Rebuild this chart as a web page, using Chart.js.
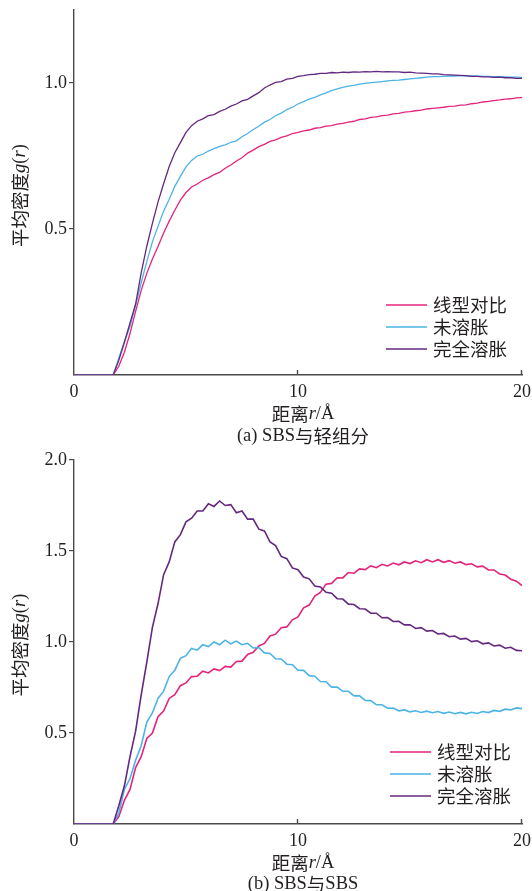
<!DOCTYPE html>
<html>
<head>
<meta charset="utf-8">
<script src="https://cdn.jsdelivr.net/npm/chart.js@4.4.0/dist/chart.umd.min.js"></script>
<style>
  html, body { margin: 0; padding: 0; background: #fff; }
  #wrapA { position: absolute; left: 0; top: 0; width: 532px; height: 445px; }
  #wrapB { position: absolute; left: 0; top: 445px; width: 532px; height: 446px; }
</style>
</head>
<body>
<div id="wrapA"><canvas id="chartA"></canvas></div>
<div id="wrapB"><canvas id="chartB"></canvas></div>
<script>
// distance r (Å), shared by every curve
const r = [0, 1.75,
  2, 2.25, 2.5, 2.75, 3, 3.25, 3.5, 3.75, 4, 4.25,
  4.5, 4.75, 5, 5.25, 5.5, 5.75, 6, 6.25, 6.5, 6.75,
  7, 7.25, 7.5, 7.75, 8, 8.25, 8.5, 8.75, 9, 9.25,
  9.5, 9.75, 10, 10.25, 10.5, 10.75, 11, 11.25, 11.5, 11.75,
  12, 12.25, 12.5, 12.75, 13, 13.25, 13.5, 13.75, 14, 14.25,
  14.5, 14.75, 15, 15.25, 15.5, 15.75, 16, 16.25, 16.5, 16.75,
  17, 17.25, 17.5, 17.75, 18, 18.25, 18.5, 18.75, 19, 19.25,
  19.5, 19.75, 20];

const seriesNames = ['线型对比', '未溶胀', '完全溶胀'];

// (a) SBS与轻组分
const aLinear = [0, 0,
  0.03, 0.078, 0.142, 0.218, 0.29, 0.348, 0.397, 0.44, 0.486, 0.527,
  0.564, 0.599, 0.625, 0.644, 0.654, 0.667, 0.675, 0.686, 0.694, 0.708,
  0.719, 0.733, 0.744, 0.76, 0.77, 0.782, 0.79, 0.8, 0.805, 0.814,
  0.819, 0.827, 0.831, 0.836, 0.839, 0.845, 0.847, 0.852, 0.854, 0.859,
  0.862, 0.866, 0.869, 0.875, 0.877, 0.882, 0.884, 0.888, 0.89, 0.894,
  0.896, 0.9, 0.902, 0.905, 0.907, 0.911, 0.913, 0.915, 0.917, 0.92,
  0.921, 0.924, 0.925, 0.929, 0.931, 0.935, 0.937, 0.94, 0.942, 0.945,
  0.946, 0.949, 0.95];
const aUnswollen = [0, 0,
  0.058, 0.114, 0.166, 0.238, 0.316, 0.388, 0.456, 0.509, 0.561, 0.602,
  0.646, 0.68, 0.713, 0.735, 0.75, 0.756, 0.767, 0.775, 0.783, 0.788,
  0.797, 0.802, 0.816, 0.827, 0.841, 0.852, 0.866, 0.875, 0.888, 0.897,
  0.909, 0.917, 0.928, 0.936, 0.945, 0.951, 0.959, 0.966, 0.974, 0.98,
  0.985, 0.989, 0.992, 0.996, 0.999, 1.001, 1.003, 1.005, 1.007, 1.009,
  1.01, 1.012, 1.014, 1.016, 1.018, 1.02, 1.022, 1.022, 1.023, 1.024,
  1.024, 1.025, 1.024, 1.024, 1.024, 1.023, 1.023, 1.022, 1.022, 1.021,
  1.02, 1.02, 1.019];
const aSwollen = [0, 0,
  0.05, 0.112, 0.178, 0.243, 0.35, 0.441, 0.519, 0.592, 0.655, 0.714,
  0.761, 0.796, 0.831, 0.854, 0.869, 0.877, 0.888, 0.892, 0.903, 0.91,
  0.921, 0.928, 0.939, 0.944, 0.956, 0.967, 0.983, 0.993, 1.002, 1.005,
  1.013, 1.016, 1.023, 1.025, 1.029, 1.03, 1.033, 1.033, 1.036, 1.035,
  1.037, 1.036, 1.038, 1.037, 1.039, 1.038, 1.04, 1.038, 1.039, 1.038,
  1.038, 1.036, 1.037, 1.035, 1.034, 1.033, 1.031, 1.031, 1.029, 1.028,
  1.027, 1.026, 1.025, 1.023, 1.023, 1.021, 1.021, 1.019, 1.02, 1.018,
  1.018, 1.016, 1.016];

// (b) SBS与SBS
const bLinear = [0, 0,
  0.04, 0.13, 0.19, 0.31, 0.37, 0.47, 0.5, 0.59, 0.62, 0.69,
  0.71, 0.76, 0.775, 0.81, 0.812, 0.84, 0.83, 0.852, 0.843, 0.866,
  0.862, 0.893, 0.895, 0.932, 0.943, 0.978, 0.992, 1.033, 1.043, 1.078,
  1.083, 1.122, 1.138, 1.188, 1.203, 1.252, 1.272, 1.318, 1.322, 1.353,
  1.352, 1.382, 1.378, 1.402, 1.398, 1.418, 1.408, 1.427, 1.418, 1.434,
  1.424, 1.44, 1.431, 1.446, 1.436, 1.452, 1.44, 1.452, 1.438, 1.447,
  1.433, 1.44, 1.425, 1.43, 1.413, 1.417, 1.396, 1.396, 1.374, 1.368,
  1.345, 1.334, 1.31];
const bUnswollen = [0, 0,
  0.06, 0.19, 0.25, 0.35, 0.43, 0.56, 0.61, 0.69, 0.73, 0.81,
  0.845, 0.91, 0.925, 0.965, 0.955, 0.985, 0.975, 1.0, 0.985, 1.01,
  0.99, 1.005, 0.985, 0.993, 0.967, 0.97, 0.94, 0.937, 0.908, 0.907,
  0.878, 0.875, 0.845, 0.844, 0.815, 0.812, 0.783, 0.782, 0.752, 0.752,
  0.729, 0.729, 0.704, 0.704, 0.679, 0.678, 0.655, 0.655, 0.636, 0.637,
  0.622, 0.627, 0.616, 0.622, 0.613, 0.62, 0.611, 0.618, 0.608, 0.615,
  0.606, 0.613, 0.605, 0.614, 0.607, 0.618, 0.612, 0.624, 0.619, 0.631,
  0.627, 0.638, 0.634];
const bSwollen = [0, 0,
  0.1, 0.21, 0.37, 0.51, 0.71, 0.89, 1.08, 1.21, 1.37, 1.44,
  1.55, 1.59, 1.66, 1.68, 1.72, 1.72, 1.76, 1.745, 1.775, 1.75,
  1.755, 1.71, 1.72, 1.675, 1.675, 1.62, 1.61, 1.55, 1.53, 1.47,
  1.458, 1.407, 1.397, 1.357, 1.347, 1.308, 1.302, 1.273, 1.268, 1.238,
  1.236, 1.208, 1.206, 1.183, 1.181, 1.158, 1.158, 1.133, 1.134, 1.113,
  1.114, 1.094, 1.095, 1.074, 1.079, 1.06, 1.063, 1.044, 1.047, 1.029,
  1.033, 1.016, 1.02, 1.002, 1.007, 0.99, 0.995, 0.978, 0.983, 0.966,
  0.971, 0.954, 0.952];

const xTicks = [0, 10, 20];
const yTicksA = [0.5, 1.0];
const yTicksB = [0.5, 1.0, 1.5, 2.0];

const colors = ['#e4237b', '#4cb3e6', '#64287f'];
const AXIS = '#4a4a4a';
const TEXT = '#231f20';
const SERIF = '"Liberation Serif", "Noto Sans CJK SC", serif';
const CJK = '"Noto Sans CJK SC", sans-serif';
const FS = 18.5;

Chart.defaults.font.family = SERIF;
Chart.defaults.font.size = 18;
Chart.defaults.color = TEXT;

// draw a line of text made of plain / italic pieces, centred on (cx, cy)
function drawMixed(ctx, parts, cx, cy) {
    const fonts = parts.map(p => (p.i ? 'italic ' : '') + FS + 'px ' + (p.cjk ? CJK : SERIF));
    let total = 0;
    const widths = parts.map((p, k) => { ctx.font = fonts[k]; const w = ctx.measureText(p.t).width; total += w; return w; });
    let x = cx - total / 2;
    ctx.textAlign = 'left';
    ctx.textBaseline = 'middle';
    ctx.fillStyle = TEXT;
    parts.forEach((p, k) => { ctx.font = fonts[k]; ctx.fillText(p.t, x, cy); x += widths[k]; });
}

const decor = {
    id: 'decor',
    afterDraw(chart, args, opts) {
        const { ctx, chartArea: a } = chart;
        const x = chart.scales.x;
        ctx.save();

        // x ticks point into the plot
        ctx.strokeStyle = AXIS;
        ctx.lineWidth = 1.4;
        xTicks.forEach(v => {
            if (v === 0) return;
            const px = Math.round(x.getPixelForValue(v)) - 0.5;
            ctx.beginPath();
            ctx.moveTo(px, a.bottom);
            ctx.lineTo(px, a.bottom - 5);
            ctx.stroke();
        });

        const cx = (a.left + a.right) / 2 + 5;
        drawMixed(ctx, [{ t: '距离', cjk: true }, { t: 'r', i: true }, { t: '/Å' }], cx, a.bottom + opts.titleDy);
        drawMixed(ctx, opts.caption, cx, a.bottom + opts.captionDy);

        // y title, rotated
        ctx.save();
        ctx.translate(20, (a.top + a.bottom) / 2 + 3);
        ctx.rotate(-Math.PI / 2);
        drawMixed(ctx, [{ t: '平均密度', cjk: true }, { t: 'g', i: true }, { t: '(' }, { t: 'r', i: true }, { t: ')' }], 0, 0);
        ctx.restore();

        // legend, lower right
        chart.data.datasets.forEach((ds, k) => {
            const y = a.bottom - opts.legendBottom + k * 22;
            ctx.strokeStyle = ds.borderColor;
            ctx.lineWidth = 1.5;
            ctx.beginPath();
            ctx.moveTo(opts.legendX, y);
            ctx.lineTo(opts.legendX + 41, y);
            ctx.stroke();
            ctx.font = FS + 'px ' + CJK;
            ctx.fillStyle = TEXT;
            ctx.textAlign = 'left';
            ctx.textBaseline = 'middle';
            ctx.fillText(ds.label, opts.legendX + 47, y);
        });
        ctx.restore();
    }
};

function makeChart(id, series, yMax, yTicks, xHeight, padTop, width, decorOpts) {
    return new Chart(document.getElementById(id), {
        type: 'line',
        data: {
            datasets: series.map((vals, k) => ({
                label: seriesNames[k],
                data: r.map((rv, i) => ({ x: rv, y: vals[i] })),
                borderColor: colors[k],
                borderWidth: width,
                pointRadius: 0,
                tension: 0,
                order: 3 - k
            }))
        },
        options: {
            responsive: true,
            maintainAspectRatio: false,
            animation: false,
            layout: { padding: { left: 24, right: 10, top: padTop, bottom: 0 } },
            plugins: { legend: { display: false }, tooltip: { enabled: false }, decor: decorOpts },
            scales: {
                x: {
                    type: 'linear',
                    min: 0,
                    max: 20,
                    afterBuildTicks: s => { s.ticks = xTicks.map(v => ({ value: v })); },
                    afterFit: s => { s.height = xHeight; s.paddingLeft = 0; s.paddingRight = 0; },
                    grid: { display: false, tickLength: 0 },
                    border: { display: true, color: AXIS, width: 1.6 },
                    ticks: { padding: 6, maxRotation: 0, color: TEXT, callback: v => String(v) }
                },
                y: {
                    min: 0,
                    max: yMax,
                    afterBuildTicks: s => { s.ticks = yTicks.map(v => ({ value: v })); },
                    afterFit: s => { s.width = 50; s.paddingTop = 0; s.paddingBottom = 0; },
                    grid: { drawOnChartArea: false, drawTicks: true, tickLength: 5, color: AXIS, lineWidth: 1.2 },
                    border: { display: true, color: AXIS, width: 1.4 },
                    ticks: { padding: 2, color: TEXT, callback: v => v.toFixed(1) }
                }
            }
        },
        plugins: [decor]
    });
}

makeChart('chartA', [aLinear, aUnswollen, aSwollen], 1.25, yTicksA, 70, 10, 1.3, {
    titleDy: 39, captionDy: 61, legendX: 386, legendBottom: 70,
    caption: [{ t: '(a) SBS' }, { t: '与轻组分', cjk: true }]
});
makeChart('chartB', [bLinear, bUnswollen, bSwollen], 2.0, yTicksB, 67, 15, 1.6, {
    titleDy: 39, captionDy: 60, legendX: 390, legendBottom: 72,
    caption: [{ t: '(b) SBS' }, { t: '与', cjk: true }, { t: 'SBS' }]
});
</script>
</body>
</html>
